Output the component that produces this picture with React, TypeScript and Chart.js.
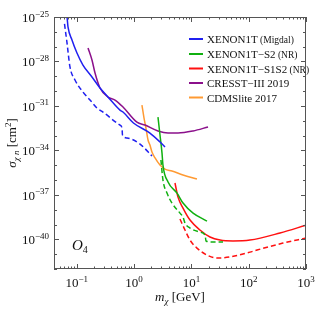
import React, { useEffect, useRef } from "react";
import { Chart, registerables } from "chart.js";

Chart.register(...registerables);

const SERIF = "'Liberation Serif', 'DejaVu Serif', serif";

// XENON1T (Migdal) – solid
const migdalX = [0.0622, 0.0675, 0.0702, 0.0824, 0.1007, 0.128, 0.184, 0.254, 0.35, 0.567, 0.64, 0.974, 1.89, 2.83, 3.46];
const migdalY = [2.95e-25, 1.0e-25, 2.14e-26, 2.82e-27, 3.72e-28, 5.75e-29, 8.91e-30, 1.62e-30, 3.98e-31, 5.25e-32, 3.89e-32, 7.08e-33, 1.48e-33, 3.72e-34, 1.7e-34];
// XENON1T (Migdal) – dashed
const migdalDX = [0.061, 0.0675, 0.076, 0.093, 0.128, 0.17, 0.225, 0.286, 0.567, 0.615, 0.627, 0.752, 1.27, 2.05];
const migdalDY = [3.39e-26, 1.78e-27, 4.27e-29, 5.62e-30, 8.71e-31, 2.51e-31, 7.24e-32, 3.89e-32, 5.13e-33, 3.24e-33, 1.1e-33, 6.9e-34, 2.69e-34, 4.17e-35];
// XENON1T-S2 (NR)
const s2X = [2.61, 2.83, 3.07, 3.19, 3.91, 5.61, 7.14, 10.7, 18.7];
const s2Y = [1.78e-32, 1.1e-33, 6.61e-35, 1.02e-35, 7.41e-37, 1.32e-37, 2.82e-38, 5.89e-39, 1.7e-39];
const s2DX = [2.94, 3.19, 3.75, 4.58, 6.32, 7.14, 7.73, 9.46, 14.1, 17.3, 18.0, 22.9, 35.6];
const s2DY = [2.24e-35, 1.0e-36, 1.32e-37, 2.82e-38, 5.89e-39, 3.16e-39, 1.26e-39, 5.75e-40, 3.09e-40, 1.95e-40, 7.76e-41, 6.61e-41, 6.61e-41];
// XENON1T-S1S2 (NR)
const s1s2X = [5.17, 5.84, 7.14, 9.46, 14.1, 21.1, 31.6, 53.2, 105, 352, 1000];
const s1s2Y = [6.31e-37, 7.08e-38, 1.29e-38, 2.0e-39, 4.27e-40, 1.45e-40, 8.91e-41, 7.76e-41, 8.91e-41, 2.69e-40, 8.9e-40];
const s1s2DX = [6.32, 7.73, 9.46, 12.5, 18.7, 28.0, 47.2, 105, 140, 397, 1000];
const s1s2DY = [2.34e-39, 4.27e-40, 8.91e-41, 2.57e-41, 8.71e-42, 5.5e-42, 6.46e-42, 1.38e-41, 1.91e-41, 5.62e-41, 1.23e-40];
// CRESST-III 2019
const cresstX = [0.157, 0.184, 0.208, 0.254, 0.35, 0.464, 0.64, 1.12, 1.55, 2.61, 3.91, 5.84, 10.7, 19.5];
const cresstY = [8.13e-28, 1.26e-28, 1.66e-29, 1.62e-30, 3.98e-31, 2.51e-31, 8.51e-32, 8.13e-33, 5.13e-33, 2.04e-33, 1.48e-33, 1.48e-33, 2.04e-33, 3.8e-33];
// CDMSlite 2017
const cdmsX = [1.37, 1.49, 1.61, 1.75, 1.89, 2.05, 2.32, 2.83, 3.46, 4.58, 7.13, 12.5];
const cdmsY = [1.15e-31, 1.51e-32, 3.24e-33, 5.01e-34, 2.29e-34, 7.76e-35, 3.09e-35, 1.02e-35, 5.5e-36, 4.07e-36, 2.19e-36, 1.17e-36];

const legendLabels = ["XENON1T", "XENON1T\u2212S2", "XENON1T\u2212S1S2", "CRESST\u2212III 2019", "CDMSlite 2017"];
const legendSuffix = [" (Migdal)", " (NR)", " (NR)", "", ""];
const legendColors = ["#2020f0", "#10b010", "#ff1010", "#8b108b", "#ff9a33"];

const xTickExps = [-1, 0, 1, 2, 3];
const yTickExps = [-25, -28, -31, -34, -37, -40];

const pts = (xs: number[], ys: number[]) => xs.map((x, i) => ({ x, y: ys[i] }));

type Run = { t: string; font: string; dy: number };

function drawRuns(ctx: CanvasRenderingContext2D, runs: Run[], x: number, y: number, align: "left" | "center" | "right") {
  let total = 0;
  for (const r of runs) {
    ctx.font = r.font;
    total += ctx.measureText(r.t).width;
  }
  let cx = align === "left" ? x : align === "center" ? x - total / 2 : x - total;
  ctx.textAlign = "left";
  ctx.textBaseline = "alphabetic";
  for (const r of runs) {
    ctx.font = r.font;
    ctx.fillText(r.t, cx, y + r.dy);
    cx += ctx.measureText(r.t).width;
  }
}

const overlay = {
  id: "overlay",
  afterDraw(chart: any) {
    const ctx: CanvasRenderingContext2D = chart.ctx;
    const { left, top, right, bottom } = chart.chartArea;
    const xs = chart.scales.x;
    const ys = chart.scales.y;
    ctx.save();
    ctx.strokeStyle = "#555";
    ctx.lineWidth = 1;
    ctx.strokeRect(left + 0.5, top + 0.5, right - left - 1, bottom - top - 1);
    ctx.beginPath();
    for (let n = -2; n <= 3; n++) {
      for (let k = 1; k <= 9; k++) {
        const v = k * Math.pow(10, n);
        if (v < 0.0399 || v > 1000.1) continue;
        const px = Math.round(xs.getPixelForValue(v)) + 0.5;
        const len = k === 1 ? 5 : 2.5;
        ctx.moveTo(px, bottom);
        ctx.lineTo(px, bottom - len);
        ctx.moveTo(px, top);
        ctx.lineTo(px, top + len);
      }
    }
    for (let e = -42; e <= -25; e++) {
      const py = Math.round(ys.getPixelForValue(Math.pow(10, e))) + 0.5;
      const len = yTickExps.includes(e) ? 5 : 3;
      ctx.moveTo(left, py);
      ctx.lineTo(left + len, py);
      ctx.moveTo(right, py);
      ctx.lineTo(right - len, py);
    }
    ctx.stroke();

    ctx.fillStyle = "#111";
    const base = `13px ${SERIF}`;
    const sup = `9px ${SERIF}`;
    for (const e of yTickExps) {
      const py = ys.getPixelForValue(Math.pow(10, e));
      drawRuns(ctx, [
        { t: "10", font: base, dy: 0 },
        { t: "\u2212" + String(-e), font: sup, dy: -5.5 },
      ], left - 5, py + 5, "right");
    }
    for (const e of xTickExps) {
      const px = xs.getPixelForValue(Math.pow(10, e));
      drawRuns(ctx, [
        { t: "10", font: base, dy: 0 },
        { t: e < 0 ? "\u2212" + String(-e) : String(e), font: sup, dy: -5.5 },
      ], px, bottom + 18, "center");
    }

    // x title
    drawRuns(ctx, [
      { t: "m", font: `italic 13px ${SERIF}`, dy: 0 },
      { t: "\u03c7", font: `italic 9px ${SERIF}`, dy: 3 },
      { t: " [GeV]", font: `13px ${SERIF}`, dy: 0 },
    ], (left + right) / 2, 301, "center");

    // y title
    ctx.save();
    ctx.translate(16, (top + bottom) / 2);
    ctx.rotate(-Math.PI / 2);
    drawRuns(ctx, [
      { t: "\u03c3", font: `italic 13px ${SERIF}`, dy: 0 },
      { t: "\u03c7 n", font: `italic 9px ${SERIF}`, dy: 3 },
      { t: " [cm", font: `13px ${SERIF}`, dy: 0 },
      { t: "2", font: `9px ${SERIF}`, dy: -5 },
      { t: "]", font: `13px ${SERIF}`, dy: 0 },
    ], 0, 0, "center");
    ctx.restore();

    // O_4 label
    drawRuns(ctx, [
      { t: "O", font: `italic 15px ${SERIF}`, dy: 0 },
      { t: "4", font: `10px ${SERIF}`, dy: 3 },
    ], 72, 250, "left");

    // legend
    const rowY = [39, 54, 68.5, 83, 97.5];
    for (let i = 0; i < legendLabels.length; i++) {
      ctx.strokeStyle = legendColors[i];
      ctx.lineWidth = 2;
      ctx.beginPath();
      ctx.moveTo(189, rowY[i]);
      ctx.lineTo(203, rowY[i]);
      ctx.stroke();
      ctx.fillStyle = "#111";
      drawRuns(ctx, [
        { t: legendLabels[i], font: `11px ${SERIF}`, dy: 0 },
        { t: legendSuffix[i], font: `9.5px ${SERIF}`, dy: 0 },
      ], 207, rowY[i] + 4, "left");
    }
    ctx.restore();
  },
};

export default function App() {
  const ref = useRef<HTMLCanvasElement | null>(null);
  useEffect(() => {
    if (!ref.current) return;
    const lw = 1.5;
    const dash = [5, 3];
    const mk = (label: string, xs: number[], ys: number[], color: string, dashed: boolean) => ({
      label,
      data: pts(xs, ys),
      borderColor: color,
      backgroundColor: color,
      borderWidth: lw,
      borderDash: dashed ? dash : [],
      pointRadius: 0,
      fill: false,
      cubicInterpolationMode: "monotone" as const,
    });
    const chart = new Chart(ref.current, {
      type: "line",
      data: {
        datasets: [
          mk("XENON1T (Migdal)", migdalX, migdalY, legendColors[0], false),
          mk("XENON1T (Migdal) dashed", migdalDX, migdalDY, legendColors[0], true),
          mk("XENON1T-S2 (NR)", s2X, s2Y, legendColors[1], false),
          mk("XENON1T-S2 (NR) dashed", s2DX, s2DY, legendColors[1], true),
          mk("XENON1T-S1S2 (NR)", s1s2X, s1s2Y, legendColors[2], false),
          mk("XENON1T-S1S2 (NR) dashed", s1s2DX, s1s2DY, legendColors[2], true),
          mk("CRESST-III 2019", cresstX, cresstY, legendColors[3], false),
          mk("CDMSlite 2017", cdmsX, cdmsY, legendColors[4], false),
        ],
      },
      options: {
        responsive: false,
        animation: false,
        layout: { padding: { left: 54, top: 17, right: 10, bottom: 41 } },
        scales: {
          x: { type: "logarithmic", min: 0.04, max: 1000, display: false },
          y: { type: "logarithmic", min: 1e-42, max: 1e-25, display: false },
        },
        plugins: { legend: { display: false }, tooltip: { enabled: false } },
      },
      plugins: [overlay],
    });
    return () => chart.destroy();
  }, []);
  return (
    <canvas
      ref={ref}
      width={316}
      height={310}
      style={{ position: "absolute", left: 0, top: 0, width: 316, height: 310, background: "#fff" }}
    />
  );
}
